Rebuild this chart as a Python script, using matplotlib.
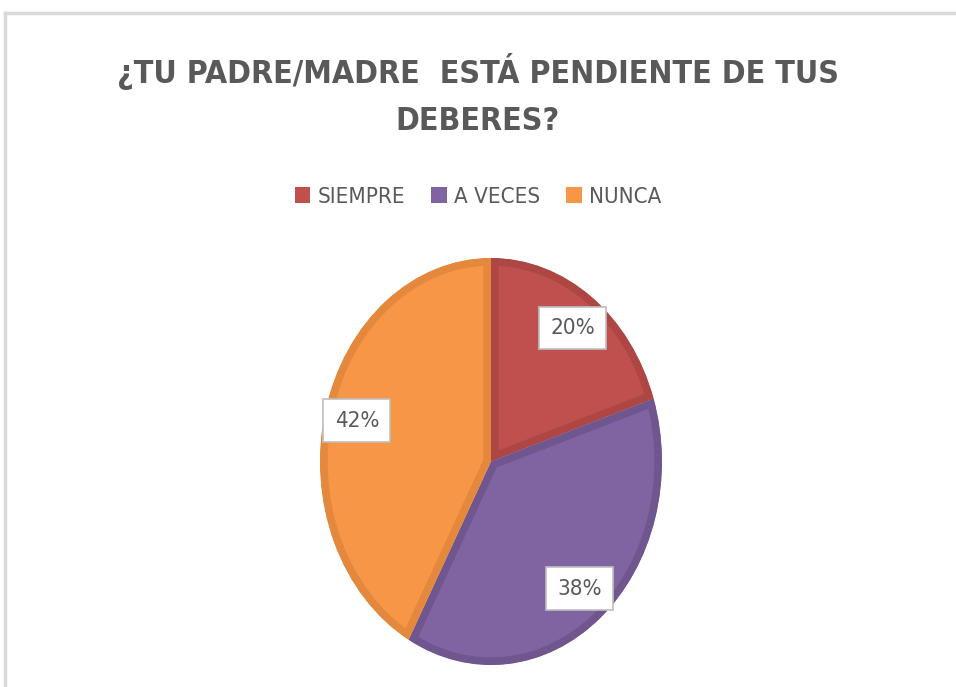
import numpy as np
import matplotlib
matplotlib.use("Agg")
import matplotlib.pyplot as plt
from matplotlib.patches import Patch

# survey answers
categories = ["SIEMPRE", "A VECES", "NUNCA"]
values = [20, 38, 42]
colors = ["#C0504D", "#8064A2", "#F79646"]
edge_colors = ["#AE4744", "#70568F", "#E3883D"]
title = "¿TU PADRE/MADRE  ESTÁ PENDIENTE DE TUS\nDEBERES?"

grey = "#595959"
font = dict(family="DejaVu Sans", stretch="condensed")

fig = plt.figure(figsize=(9.56, 6.87), dpi=100)
fig.patch.set_facecolor("white")

# frame lines (top and left) like the original screenshot
fig.add_artist(plt.Line2D([5 / 956, 1], [1 - 13 / 687, 1 - 13 / 687], color="#D9D9D9", lw=2.5))
fig.add_artist(plt.Line2D([5 / 956, 5 / 956], [0, 1 - 13 / 687], color="#D9D9D9", lw=2.5))

ax = fig.add_axes([320 / 956, 22 / 687, 342 / 956, 407 / 687])
wedges, texts, autotexts = ax.pie(
    values, colors=colors, startangle=90, counterclock=False,
    autopct="%d%%", pctdistance=0.81, radius=1,
    textprops=dict(color=grey, fontsize=16, **font),
)
ax.set_aspect("auto")
ax.set_xlim(-1, 1)
ax.set_ylim(-1, 1)

# inner darker border, clipped to each wedge
for w, ec in zip(wedges, edge_colors):
    w.set_edgecolor(ec)
    w.set_linewidth(11)
    w.set_clip_on(True)
    w.set_clip_path(w)

for t in autotexts:
    t.set_bbox(dict(boxstyle="square,pad=0.5", fc="white", ec="#BFBFBF", lw=1.2))

line1, line2 = title.split("\n")
fig.text(0.5, 1 - 72 / 687, line1, ha="center", va="center",
         fontsize=23, fontweight="bold", color=grey, **font)
fig.text(0.5, 1 - 122 / 687, line2, ha="center", va="center",
         fontsize=23, fontweight="bold", color=grey, **font)

handles = [Patch(facecolor=c, edgecolor="none") for c in colors]
leg = fig.legend(handles, categories, loc="center", bbox_to_anchor=(0.5, 1 - 197 / 687),
                 ncol=3, frameon=False, handlelength=0.7, handleheight=0.7,
                 handletextpad=0.3, columnspacing=1.2,
                 prop=dict(size=16, **font))
for t in leg.get_texts():
    t.set_color(grey)

fig.savefig("out.png", dpi=100)
